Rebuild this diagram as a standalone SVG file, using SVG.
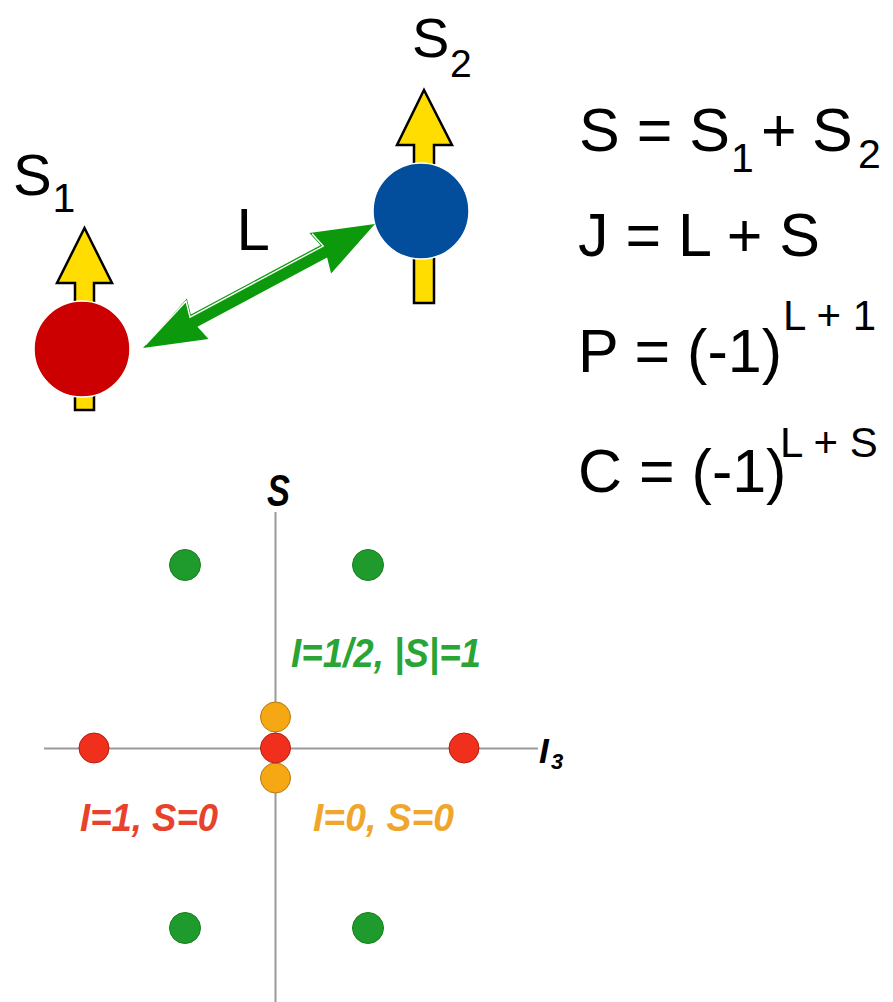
<svg xmlns="http://www.w3.org/2000/svg" width="893" height="1002" viewBox="0 0 893 1002">
<style>
.t{font-family:"Liberation Sans",Arial,Helvetica,sans-serif;fill:#000}
.b{font-family:"Liberation Sans",Arial,sans-serif;font-weight:bold;font-style:italic}
.spin{fill:#FFDD00;stroke:#000;stroke-width:2.5;stroke-linejoin:miter}
.axis{stroke:#9a9a9a;stroke-width:2;fill:none}
.g{fill:#1f9a2c;stroke:#17801f;stroke-width:1}
.r{fill:#f0301c;stroke:#b02010;stroke-width:1}
.o{fill:#f5a814;stroke:#b07a10;stroke-width:1}
</style>
<rect width="893" height="1002" fill="#fff"/>

<g id="particle1">
<polygon class="spin" points="84.5,228 112,283 94,283 94,410 75,410 75,283 57,283"/>
<circle cx="82" cy="349" r="48" fill="#cc0000" stroke="#fff" stroke-width="1.5"/>
<text class="t" x="13" y="195" font-size="58">S</text>
<text class="t" x="52.5" y="212" font-size="41">1</text>
</g>

<g id="particle2">
<polygon class="spin" points="424,90 452,145 434,145 434,303 414,303 414,145 397,145"/>
<circle cx="421" cy="211" r="48" fill="#024e9c" stroke="#fff" stroke-width="1.5"/>
<text class="t" x="412" y="57" font-size="56">S</text>
<text class="t" x="450" y="77" font-size="39">2</text>
</g>

<g id="connectors">
<g transform="translate(143,348) rotate(-28.13)">
<polygon points="0,0 62,-23 58,-7 205,-7 201,-23 263,0 201,23 205,7 58,7 62,23" fill="#0c9a0c"/>
<polyline points="4,-1.8 60,-21 56,-5 207,-5 203,-21" fill="none" stroke="#fff" stroke-width="1.4"/>
</g>
<text class="t" x="236.5" y="250" font-size="60">L</text>
</g>

<g id="equations">
<text class="t" x="579" y="151" font-size="61">S = S</text>
<text class="t" x="731" y="172" font-size="41">1</text>
<text class="t" x="761" y="151" font-size="61">+</text>
<text class="t" x="812" y="151" font-size="61">S</text>
<text class="t" x="858" y="168" font-size="41">2</text>
<text class="t" x="578" y="256" font-size="61">J = L + S</text>
<text class="t" x="578" y="372" font-size="61">P = (-1)</text>
<text class="t" x="783" y="330" font-size="42">L + 1</text>
<text class="t" x="578" y="492" font-size="61">C = (-1)</text>
<text class="t" x="780" y="457" font-size="42">L + S</text>
</g>

<g id="axes">
<line class="axis" x1="275.5" y1="512" x2="275.5" y2="1002"/>
<line class="axis" x1="44" y1="748.5" x2="538" y2="748.5"/>
<text class="b" x="267" y="506" font-size="44" textLength="23" lengthAdjust="spacingAndGlyphs" fill="#000">S</text>
<text class="b" x="539" y="763" font-size="35" fill="#000">I</text>
<text class="b" x="551" y="769" font-size="22" fill="#000">3</text>
</g>

<g id="dots">
<circle class="g" cx="185" cy="565" r="15.5"/>
<circle class="g" cx="368" cy="565" r="15.5"/>
<circle class="g" cx="185" cy="928" r="15.5"/>
<circle class="g" cx="368" cy="928" r="15.5"/>
<circle class="o" cx="275.5" cy="717" r="15"/>
<circle class="o" cx="275.5" cy="778" r="15"/>
<circle class="r" cx="94" cy="748" r="15"/>
<circle class="r" cx="275.5" cy="748" r="15"/>
<circle class="r" cx="464" cy="748" r="15"/>
</g>

<g id="labels">
<text class="b" x="291" y="667" font-size="40" textLength="190" lengthAdjust="spacingAndGlyphs" fill="#2aa535">I=1/2, |S|=1</text>
<text class="b" x="80" y="831" font-size="39" textLength="138" lengthAdjust="spacingAndGlyphs" fill="#e8412c">I=1, S=0</text>
<text class="b" x="313" y="831" font-size="39" textLength="141" lengthAdjust="spacingAndGlyphs" fill="#f0a62c">I=0, S=0</text>
</g>
</svg>
